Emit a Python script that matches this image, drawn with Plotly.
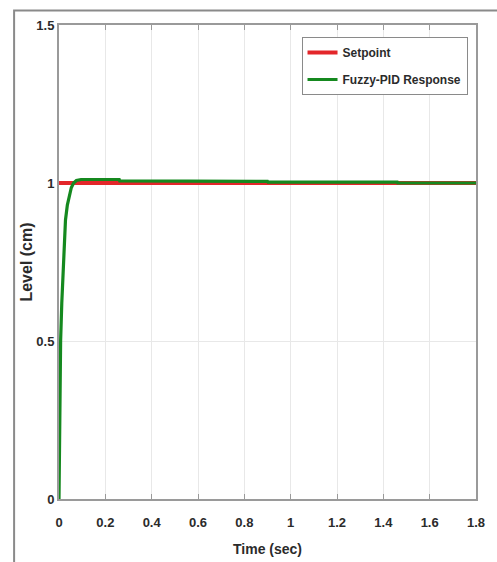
import plotly.graph_objects as go

# Data
setpoint_time = [0.0, 1.8]
setpoint_level = [1.0, 1.0]

response_time = [0.0, 0.003, 0.007, 0.012, 0.018, 0.028, 0.036, 0.044, 0.053, 0.063, 0.075,
                 0.095, 0.26, 0.262, 0.52, 0.522, 0.9, 0.902, 1.46, 1.462, 1.8]
response_level = [0.0, 0.3, 0.5, 0.62, 0.725, 0.883, 0.93, 0.957, 0.985, 1.0, 1.008,
                  1.011, 1.011, 1.007, 1.007, 1.005, 1.005, 1.003, 1.003, 1.0, 1.0]

x_ticks = [0, 0.2, 0.4, 0.6, 0.8, 1, 1.2, 1.4, 1.6, 1.8]
x_ticklabels = ["0", "0.2", "0.4", "0.6", "0.8", "1", "1.2", "1.4", "1.6", "1.8"]
y_ticks = [0, 0.5, 1, 1.5]
y_ticklabels = ["0", "0.5", "1", "1.5"]

FONT = "Liberation Sans, Arial, sans-serif"
TXT = "#2b2b2b"

fig = go.Figure()
fig.add_trace(go.Scatter(x=setpoint_time, y=setpoint_level, mode="lines", name="<b>Setpoint</b>",
                         legendgroup="a", line=dict(color="#e3262a", width=4)))
fig.add_trace(go.Scatter(x=response_time, y=response_level, mode="lines", name="<b>Fuzzy-PID Response</b>",
                         legendgroup="b", line=dict(color="#15891f", width=3.2)))

W, H = 497, 562
L, R, T, B = 58.5, 476.5, 25, 499
pw, ph = R - L, B - T

fig.update_layout(
    width=W, height=H,
    margin=dict(l=L, r=W - R, t=T, b=H - B),
    paper_bgcolor="white", plot_bgcolor="white",
    font=dict(family=FONT, color=TXT, size=13),
    showlegend=True,
    legend=dict(
        x=(468 - L) / pw, xanchor="right",
        y=(B - 37) / ph, yanchor="top",
        bgcolor="white", bordercolor="#8a8a8a", borderwidth=1,
        font=dict(family=FONT, size=12, color=TXT),
        itemwidth=30, tracegroupgap=8,
    ),
    xaxis=dict(
        range=[0, 1.8], tickvals=x_ticks, ticktext=[f"<b>{t}</b>" for t in x_ticklabels],
        showgrid=True, gridcolor="#e8e8e8", gridwidth=1, zeroline=False,
        showline=True, linecolor="#9a9a9a", linewidth=2, mirror="ticks",
        ticks="inside", ticklen=5, tickcolor="#9a9a9a",
        ticklabelstandoff=10, automargin=False,
        tickfont=dict(family=FONT, size=13, color=TXT),
        title=dict(text="<b>Time (sec)</b>", font=dict(family=FONT, size=14, color=TXT), standoff=16),
    ),
    yaxis=dict(
        range=[0, 1.5], tickvals=y_ticks, ticktext=[f"<b>{t}</b>" for t in y_ticklabels],
        showgrid=True, gridcolor="#e8e8e8", gridwidth=1, zeroline=False,
        showline=True, linecolor="#9a9a9a", linewidth=2, mirror=True,
        ticks="", automargin=False, tickfont=dict(family=FONT, size=13, color=TXT),
        title=dict(text="<b>Level (cm)</b>", font=dict(family=FONT, size=16, color=TXT), standoff=0),
    ),
    shapes=[dict(type="rect", xref="paper", yref="paper",
                 x0=(13.5 - L) / pw, x1=(510 - L) / pw,
                 y0=(B - 600) / ph, y1=(B - 10.5) / ph,
                 line=dict(color="#8a8a8a", width=2), fillcolor="rgba(0,0,0,0)", layer="below")],
)

fig.write_html("out.html", config={"displayModeBar": False},
               post_script="document.body.style.margin='0';")
